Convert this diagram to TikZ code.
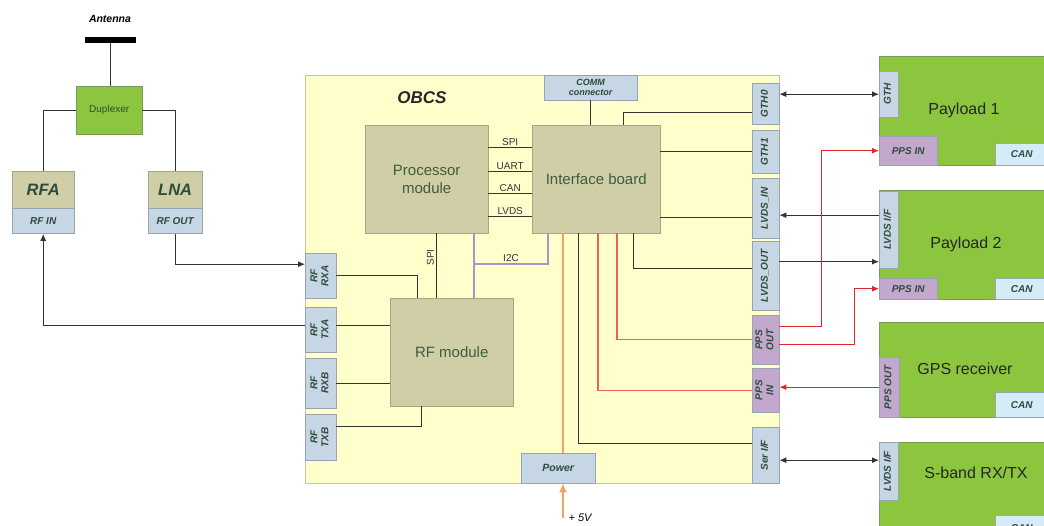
\documentclass[tikz,border=0pt]{standalone}
\usepackage{fontspec}
\setmainfont{Liberation Sans}
\usetikzlibrary{arrows.meta, positioning, calc}
\definecolor{boardyellow}{HTML}{FFFFCC}
\definecolor{boardedge}{HTML}{C3C6A6}
\definecolor{modulekhaki}{HTML}{D0CEA6}
\definecolor{moduleedge}{HTML}{A5A58A}
\definecolor{portblue}{HTML}{C6D6E4}
\definecolor{portedge}{HTML}{98A4AE}
\definecolor{ppspurple}{HTML}{C3A8CE}
\definecolor{canblue}{HTML}{D5ECF8}
\definecolor{unitgreen}{HTML}{8CC63F}
\definecolor{unitedge}{HTML}{7A9A5A}
\definecolor{labelgreen}{HTML}{2E4B3C}
\definecolor{moduletext}{HTML}{3E5C3E}
\definecolor{wiregray}{HTML}{333333}
\definecolor{pulsered}{HTML}{E3262B}
\definecolor{pulseline}{HTML}{E8664F}
\definecolor{i2cpurple}{HTML}{A893CB}
\definecolor{supplyorange}{HTML}{F4A261}
\newcommand{\vtext}[1]{\rotatebox{90}{\begin{tabular}{@{}c@{}}#1\end{tabular}}}
\tikzset{
    box/.style={draw=portedge, anchor=north west, inner sep=1pt, align=center},
    board/.style={box, draw=boardedge, fill=boardyellow, line width=1pt},
    module/.style={box, draw=moduleedge, fill=modulekhaki, text=moduletext,
        font=\fontsize{15}{18}\selectfont},
    rfunit/.style={box, draw=moduleedge, fill=modulekhaki, text=labelgreen,
        font=\bfseries\itshape\fontsize{16.5}{19}\selectfont},
    port/.style={box, fill=portblue, text=labelgreen,
        font=\bfseries\itshape\fontsize{10}{11}\selectfont},
    ppsport/.style={port, fill=ppspurple},
    canport/.style={port, fill=canblue},
    unit/.style={box, draw=unitedge, fill=unitgreen},
    unitname/.style={font=\fontsize{16}{19}\selectfont, text=black!85},
    buslabel/.style={font=\fontsize{10}{12}\selectfont, text=black!80, inner sep=1.5pt},
    wire/.style={draw=wiregray, line width=1pt},
    flow/.style={wire, -{Latex[length=7pt, width=6pt]}},
    bothflow/.style={wire, {Latex[length=7pt, width=6pt]}-{Latex[length=7pt, width=6pt]}},
    pulse/.style={draw=pulseline, line width=1.1pt},
    pulseflow/.style={draw=pulsered, line width=1pt, -{Latex[length=7pt, width=6pt]}},
    i2cbus/.style={draw=i2cpurple, line width=2.2pt},
    supply/.style={draw=supplyorange, line width=1.3pt}
}

\begin{document}
\begin{tikzpicture}[x=1pt, y=-1pt]
    \useasboundingbox (0,0) rectangle (1044,526);

    % antenna side
    \node[font=\bfseries\itshape\fontsize{10.5}{12}\selectfont] (antlabel) at (110,19) {Antenna};
    \node[fill=black, inner sep=0pt, minimum width=51pt, minimum height=6pt] (antenna) at (110,40) {};
    \node[unit, minimum width=66pt, minimum height=48pt, text=labelgreen, font=\fontsize{10}{11}\selectfont] (duplexer) at (76,86) {Duplexer};
    \node[rfunit, minimum width=62pt, minimum height=37pt] (rfa) at (12,171) {RFA};
    \node[port, minimum width=62pt, minimum height=25pt, below=0pt of rfa] (rfin) {RF IN};
    \node[rfunit, minimum width=54pt, minimum height=37pt] (lna) at (148,171) {LNA};
    \node[port, minimum width=54pt, minimum height=25pt, below=0pt of lna] (rfout) {RF OUT};

    % OBCS
    \node[board, minimum width=474pt, minimum height=408pt] (obcs) at (305,75) {};
    \node[font=\bfseries\itshape\fontsize{17}{20}\selectfont, text=black!85] (obcslabel) at (422,98) {OBCS};
    \node[port, minimum width=93pt, minimum height=25pt, font=\bfseries\itshape\fontsize{9}{10}\selectfont] (comm) at (544,75) {COMM\\connector};
    \node[module, minimum width=123pt, minimum height=108pt] (proc) at (365,125) {Processor\\module};
    \node[module, minimum width=128pt, minimum height=108pt] (iface) at (532,125) {Interface board};
    \node[module, minimum width=123pt, minimum height=108pt] (rfmod) at (390,298) {RF module};
    \node[port, minimum width=74pt, minimum height=30pt, font=\bfseries\itshape\fontsize{10.5}{12}\selectfont] (power) at (521,453) {Power};

    \node[port, minimum width=31pt, minimum height=45pt] (rxa) at (305,253) {\vtext{RF\\RXA}};
    \node[port, minimum width=31pt, minimum height=45pt] (txa) at (305,307) {\vtext{RF\\TXA}};
    \node[port, minimum width=31pt, minimum height=50pt] (rxb) at (305,358) {\vtext{RF\\RXB}};
    \node[port, minimum width=31pt, minimum height=46pt] (txb) at (305,414) {\vtext{RF\\TXB}};

    \node[port, minimum width=27pt, minimum height=41pt] (gth0) at (752,83) {\vtext{GTH0}};
    \node[port, minimum width=27pt, minimum height=43pt] (gth1) at (752,130) {\vtext{GTH1}};
    \node[port, minimum width=27pt, minimum height=60pt] (lvdsin) at (752,178) {\vtext{LVDS\_IN}};
    \node[port, minimum width=27pt, minimum height=69pt] (lvdsout) at (752,241) {\vtext{LVDS\_OUT}};
    \node[ppsport, minimum width=27pt, minimum height=49pt] (ppsout) at (752,315) {\vtext{PPS\\OUT}};
    \node[ppsport, minimum width=27pt, minimum height=44pt] (ppsin) at (752,368) {\vtext{PPS\\IN}};
    \node[port, minimum width=27pt, minimum height=56pt] (serif) at (752,427) {\vtext{Ser I/F}};

    % units on the right
    \node[unit, minimum width=170pt, minimum height=109pt] (payload1) at (879,56) {};
    \node[port, minimum width=19pt, minimum height=46pt] (p1gth) at (879,71) {\vtext{GTH}};
    \node[ppsport, minimum width=58pt, minimum height=29pt] (p1pps) at (879,136) {PPS IN};
    \node[canport, minimum width=53pt, minimum height=22pt] (p1can) at (995,143) {CAN};
    \node[unitname] (p1name) at (964,110) {Payload 1};

    \node[unit, minimum width=170pt, minimum height=109pt] (payload2) at (879,190) {};
    \node[port, minimum width=19pt, minimum height=77pt] (p2lvds) at (879,191) {\vtext{LVDS I/F}};
    \node[ppsport, minimum width=58pt, minimum height=21pt] (p2pps) at (879,278) {PPS IN};
    \node[canport, minimum width=53pt, minimum height=21pt] (p2can) at (995,278) {CAN};
    \node[unitname] (p2name) at (966,244) {Payload 2};

    \node[unit, minimum width=170pt, minimum height=95pt] (gps) at (879,322) {};
    \node[ppsport, minimum width=20pt, minimum height=60pt] (gpspps) at (879,357) {\vtext{PPS OUT}};
    \node[canport, minimum width=53pt, minimum height=25pt] (gpscan) at (995,392) {CAN};
    \node[unitname] (gpsname) at (965,369) {GPS receiver};

    \node[unit, minimum width=170pt, minimum height=100pt] (sband) at (879,442) {};
    \node[port, minimum width=19pt, minimum height=58pt] (sblvds) at (879,442) {\vtext{LVDS I/F}};
    \node[canport, minimum width=53pt, minimum height=25pt] (sbcan) at (995,515) {CAN};
    \node[unitname] (sbname) at (976,473) {S-band RX/TX};

    % RF chain
    \draw[wire] (antenna.south) -- (antenna.south |- duplexer.north);
    \draw[wire] (duplexer.west) -| (rfa.north);
    \draw[wire] (duplexer.east) -| (lna.north);
    \draw[flow] (rfout.south) |- ([yshift=11.5pt]rxa.west);
    \draw[flow] ([yshift=4pt]txa.west) -| (rfin.south);

    % inside the OBCS
    \draw[wire] (comm.south) -- (comm.south |- iface.north);
    \foreach \bus/\yy in {SPI/148, UART/172, CAN/194, LVDS/217}
        \draw[wire] (proc.east |- 0,\yy) -- node[buslabel, above] {\bus} (iface.west |- 0,\yy);
    \coordinate (spitap) at ([xshift=71pt]proc.south west);
    \draw[wire] (spitap) -- node[buslabel, rotate=90, above, pos=0.37] {SPI} (spitap |- rfmod.north);
    \coordinate (i2ctap) at ([xshift=109pt]proc.south west);
    \draw[i2cbus] (i2ctap) -- (i2ctap |- rfmod.north);
    \draw[i2cbus] ([xshift=16pt]iface.south west) |- node[buslabel, above, pos=0.75] {I2C} (i2ctap |- 0,264);

    \draw[wire] (rxa.east) -| ([xshift=27pt]rfmod.north west);
    \coordinate (txapin) at ([yshift=4pt]txa.east);
    \draw[wire] (txapin) -- (txapin -| rfmod.west);
    \draw[wire] (rxb.east) -- (rxb.east -| rfmod.west);
    \draw[wire] ([yshift=11pt]txb.east) -| ([xshift=31pt]rfmod.south west);

    \draw[wire] ([xshift=91pt]iface.north west) |- ([yshift=-8.5pt]gth0.west);
    \draw[wire] (gth1.west -| iface.east) -- (gth1.west);
    \coordinate (lvdsinpin) at ([yshift=-9pt]lvdsin.west);
    \draw[wire] (lvdsinpin -| iface.east) -- (lvdsinpin);
    \draw[wire] ([xshift=101pt]iface.south west) |- ([yshift=7pt]lvdsout.west);
    \draw[pulse] ([xshift=85pt]iface.south west) |- (ppsout.west);
    \draw[pulse] ([xshift=66pt]iface.south west) |- (ppsin.west);
    \draw[wire] ([xshift=46pt]iface.south west) |- ([yshift=12pt]serif.west);

    \coordinate (pwrtap) at ([xshift=31pt]iface.south west);
    \draw[supply] (pwrtap) -- (pwrtap |- power.north);
    \coordinate (supplyin) at (pwrtap |- 0,518);
    \draw[supply, -{Latex[length=9pt, width=8pt]}] (supplyin) -- (supplyin |- power.south);
    \node[font=\itshape\fontsize{11}{13}\selectfont, right=2pt of supplyin] (fivevolt) {+ 5V};

    % links to the units
    \draw[bothflow] (p1gth.west -| gth0.east) -- (p1gth.west);
    \coordinate (lvdsinext) at ([yshift=-7pt]lvdsin.east);
    \draw[flow] (lvdsinext -| p2lvds.west) -- (lvdsinext);
    \coordinate (lvdsoutext) at ([yshift=14pt]lvdsout.east);
    \draw[flow] (lvdsoutext) -- (lvdsoutext -| p2lvds.west);
    \draw[pulseflow] ([yshift=13pt]ppsout.east) -- ++(42,0) |- (p1pps.west);
    \draw[pulseflow] ([yshift=-5pt]ppsout.east) -- ++(75,0) |- (p2pps.west);
    \draw[pulseflow] (gpspps.west) -- (gpspps.west -| ppsin.east);
    \coordinate (serext) at ([yshift=-5pt]serif.east);
    \draw[bothflow] (serext) -- (serext -| sblvds.west);
\end{tikzpicture}
\end{document}
